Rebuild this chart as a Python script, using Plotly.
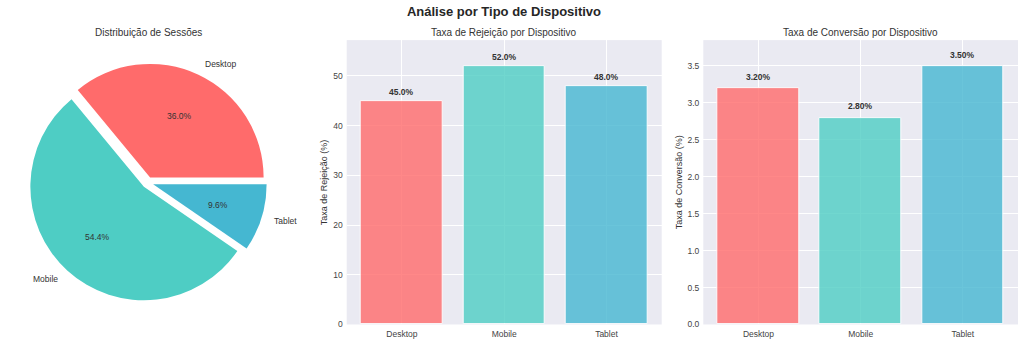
import numpy as np
import plotly.graph_objects as go

# ---- data ----
devices = ["Desktop", "Mobile", "Tablet"]
sessions = [4500, 6800, 1200]
bounce_rate = [45.0, 52.0, 48.0]
conversion_rate = [3.20, 2.80, 3.50]
colors = ["#FF6B6B", "#4ECDC4", "#45B7D1"]

W, H = 1024, 344
# vertical layout positions below are laid out on a 338 px tall grid
GRID_H = 338
FONT = "Liberation Sans, Arial, sans-serif"
TXT = "#333333"
TICK = "#444444"


def px_x(x):
    return x / W


def px_y(y):
    return 1 - y / GRID_H


fig = go.Figure()

vals = np.array(sessions, dtype=float)
frac = vals / vals.sum()

# ---- pie: session distribution (all wedges pulled out a little) ----
# first wedge starts at 3 o'clock and the wedges run counterclockwise;
# plotly puts the first counterclockwise wedge on the clockwise side of
# `rotation`, so rotate back by the first wedge's angle
pull = 0.05
pie_cx, pie_cy, pie_r = 147.7, 182.0, 113.5
half = pie_r * (1 + pull)
fig.add_trace(go.Pie(
    labels=devices, values=sessions, sort=False,
    direction="counterclockwise", rotation=90 - frac[0] * 360,
    pull=[pull] * len(devices),
    marker=dict(colors=colors, line=dict(width=0)),
    textinfo="none", hoverinfo="label+percent", showlegend=False,
    domain=dict(x=[px_x(pie_cx - half), px_x(pie_cx + half)],
                y=[px_y(pie_cy + half), px_y(pie_cy - half)]),
))

# wedge labels and percentages placed along each wedge's mid angle
edges = np.concatenate([[0.0], np.cumsum(frac) * 360.0])
annotations = []
for i, name in enumerate(devices):
    mid = np.deg2rad((edges[i] + edges[i + 1]) / 2)
    c, s = np.cos(mid), np.sin(mid)
    lx = pie_cx + (1.1 + pull) * pie_r * c
    ly = pie_cy - (1.1 + pull) * pie_r * s
    annotations.append(dict(
        x=px_x(lx), y=px_y(ly), xref="paper", yref="paper",
        text=name, showarrow=False, xanchor="left" if c > 0 else "right",
        yanchor="middle", font=dict(family=FONT, size=8.5, color=TXT)))
    tx = pie_cx + (0.6 + pull) * pie_r * c
    ty = pie_cy - (0.6 + pull) * pie_r * s
    annotations.append(dict(
        x=px_x(tx), y=px_y(ty), xref="paper", yref="paper",
        text=f"{frac[i] * 100:.1f}%", showarrow=False,
        xanchor="center", yanchor="middle",
        font=dict(family=FONT, size=8.5, color=TXT)))

# ---- bar charts ----
fig.add_trace(go.Bar(
    x=devices, y=bounce_rate, width=0.8, opacity=0.8,
    marker=dict(color=colors, line=dict(color="white", width=1)),
    xaxis="x", yaxis="y", showlegend=False))
fig.add_trace(go.Bar(
    x=devices, y=conversion_rate, width=0.8, opacity=0.8,
    marker=dict(color=colors, line=dict(color="white", width=1)),
    xaxis="x2", yaxis="y2", showlegend=False))

for d, v in zip(devices, bounce_rate):
    annotations.append(dict(
        x=d, y=v + 1, xref="x", yref="y", text=f"<b>{v:.1f}%</b>",
        showarrow=False, xanchor="center", yanchor="bottom", yshift=-3,
        font=dict(family=FONT, size=8.5, color=TXT)))
for d, v in zip(devices, conversion_rate):
    annotations.append(dict(
        x=d, y=v + 0.1, xref="x2", yref="y2", text=f"<b>{v:.2f}%</b>",
        showarrow=False, xanchor="center", yanchor="bottom", yshift=-3,
        font=dict(family=FONT, size=8.5, color=TXT)))

# subplot titles
for text, cx in [("Distribuição de Sessões", 148.3),
                 ("Taxa de Rejeição por Dispositivo", 504.2),
                 ("Taxa de Conversão por Dispositivo", 860.7)]:
    annotations.append(dict(
        x=px_x(cx), y=px_y(32), xref="paper", yref="paper", text=text,
        showarrow=False, xanchor="center", yanchor="middle",
        font=dict(family=FONT, size=10, color=TXT)))

# y axis titles
for text, cx in [("Taxa de Rejeição (%)", 324), ("Taxa de Conversão (%)", 679)]:
    annotations.append(dict(
        x=px_x(cx), y=px_y(181.8), xref="paper", yref="paper", text=text,
        textangle=-90, showarrow=False, xanchor="center", yanchor="middle",
        font=dict(family=FONT, size=9, color=TXT)))

axis_common = dict(showgrid=True, gridcolor="white", gridwidth=1,
                   zeroline=False, showline=False, ticks="",
                   tickfont=dict(family=FONT, size=8.5, color=TICK))

y_bottom, y_top = px_y(323.5), px_y(40)
fig.update_layout(
    width=W, height=H,
    margin=dict(l=0, r=0, t=0, b=0),
    paper_bgcolor="white", plot_bgcolor="#EAEAF2",
    bargap=0,
    title=dict(text="<b>Análise por Tipo de Dispositivo</b>",
               x=px_x(504), y=px_y(11.5), xanchor="center", yanchor="middle",
               font=dict(family=FONT, size=13, color="#262626")),
    xaxis=dict(domain=[px_x(346.7), px_x(661.7)], range=[-0.54, 2.54],
               anchor="y", ticklabelstandoff=3, **axis_common),
    yaxis=dict(domain=[y_bottom, y_top], range=[0, 57.2], dtick=10,
               anchor="x", ticklabelstandoff=3, **axis_common),
    xaxis2=dict(domain=[px_x(703.3), px_x(1018)], range=[-0.54, 2.54],
                anchor="y2", ticklabelstandoff=3, **axis_common),
    yaxis2=dict(domain=[y_bottom, y_top], range=[0, 3.85], dtick=0.5,
                tickformat=".1f", anchor="x2", ticklabelstandoff=3,
                **axis_common),
    annotations=annotations,
)

fig.write_html("out.html")
